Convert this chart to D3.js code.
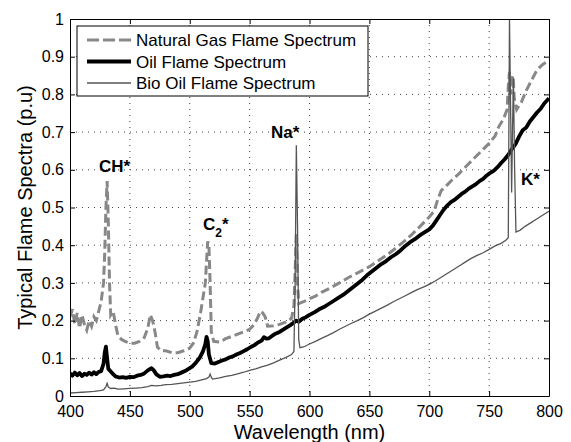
<!DOCTYPE html>
<html>
<head>
<meta charset="utf-8">
<script src="https://cdn.jsdelivr.net/npm/d3@7"></script>
<style>
body { margin: 0; background: #fff; }
svg { font-family: "Liberation Sans", Arial, sans-serif; }
.tick text { font-size: 16px; fill: #000; }
.domain { stroke: #000; }
.tick line { stroke: #000; }
</style>
</head>
<body>
<div id="chart"></div>
<script>

var width = 571,
height = 442,
margin = {top: 19, right: 22, bottom: 46, left: 70};

// tick labels
var xTicks = [400, 450, 500, 550, 600, 650, 700, 750, 800];
var yTicks = [0, 0.1, 0.2, 0.3, 0.4, 0.5, 0.6, 0.7, 0.8, 0.9, 1];

var seriesNames = ["Natural Gas Flame Spectrum", "Oil Flame Spectrum", "Bio Oil Flame Spectrum"];

// natural gas flame
var gasWavelength = [400, 402, 404, 406, 408, 410, 412, 414, 416, 418, 420, 422, 424, 426, 428, 429, 430, 431, 432, 433, 434, 436, 438, 440, 443, 446, 450, 454, 458, 462, 465, 467, 469, 471, 473, 476, 480, 485, 490, 495, 500, 503, 506, 509, 511, 513, 515, 516, 517, 518, 520, 525, 530, 535, 540, 545, 550, 554, 557, 559, 561, 563, 565, 570, 575, 580, 585, 587, 588, 589, 590, 591, 595, 600, 605, 610, 617, 625, 633, 641, 650, 658, 665, 672, 679, 686, 693, 700, 704, 707, 710, 715, 719, 724, 728, 736, 743, 750, 755, 758, 762, 765, 766, 767, 768, 769, 770, 771, 773, 777, 781, 785, 790, 795, 800];
var gasIntensity = [0.21, 0.23, 0.19, 0.22, 0.18, 0.215, 0.19, 0.175, 0.2, 0.185, 0.21, 0.2, 0.225, 0.25, 0.3, 0.38, 0.5, 0.57, 0.46, 0.3, 0.215, 0.225, 0.19, 0.16, 0.15, 0.145, 0.14, 0.14, 0.145, 0.155, 0.18, 0.215, 0.2, 0.17, 0.13, 0.12, 0.12, 0.115, 0.115, 0.12, 0.127, 0.14, 0.17, 0.22, 0.26, 0.3, 0.41, 0.4, 0.3, 0.17, 0.145, 0.143, 0.152, 0.158, 0.164, 0.17, 0.177, 0.19, 0.21, 0.225, 0.22, 0.21, 0.185, 0.186, 0.19, 0.196, 0.206, 0.24, 0.33, 0.43, 0.3, 0.245, 0.25, 0.258, 0.265, 0.275, 0.286, 0.3, 0.315, 0.328, 0.343, 0.36, 0.375, 0.392, 0.41, 0.43, 0.452, 0.475, 0.49, 0.52, 0.545, 0.56, 0.573, 0.587, 0.6, 0.626, 0.648, 0.67, 0.69, 0.714, 0.735, 0.76, 0.82, 0.86, 0.8, 0.84, 0.85, 0.79, 0.76, 0.78, 0.81, 0.835, 0.865, 0.88, 0.89];

// oil flame
var oilWavelength = [400, 402, 404, 406, 408, 410, 412, 414, 416, 418, 420, 422, 424, 426, 428, 429, 430, 431, 432, 434, 436, 438, 441, 444, 447, 450, 453, 456, 459, 462, 465, 468, 470, 472, 475, 478, 481, 484, 487, 490, 493, 496, 499, 502, 505, 508, 511, 513, 514, 515, 516, 518, 521, 524, 527, 530, 533, 536, 539, 542, 545, 548, 551, 554, 557, 560, 562, 564, 566, 569, 572, 575, 578, 581, 584, 587, 589, 591, 594, 597, 600, 604, 608, 612, 616, 620, 624, 628, 632, 636, 640, 644, 648, 652, 656, 660, 664, 668, 672, 676, 680, 684, 688, 692, 696, 700, 703, 706, 709, 712, 715, 718, 721, 724, 727, 730, 733, 736, 739, 742, 745, 748, 751, 754, 757, 760, 763, 766, 769, 772, 775, 778, 781, 784, 787, 790, 793, 796, 800];
var oilIntensity = [0.06, 0.054, 0.062, 0.055, 0.061, 0.053, 0.059, 0.056, 0.062, 0.057, 0.063, 0.058, 0.064, 0.066, 0.085, 0.115, 0.131, 0.1, 0.072, 0.065, 0.058, 0.052, 0.049, 0.05, 0.048, 0.051, 0.05, 0.054, 0.056, 0.06, 0.068, 0.074, 0.068, 0.058, 0.051, 0.052, 0.054, 0.053, 0.056, 0.058, 0.062, 0.066, 0.072, 0.078, 0.088, 0.1, 0.118, 0.138, 0.157, 0.145, 0.11, 0.087, 0.086, 0.09, 0.094, 0.097, 0.102, 0.105, 0.11, 0.114, 0.119, 0.124, 0.13, 0.135, 0.142, 0.147, 0.156, 0.152, 0.153, 0.16, 0.166, 0.17, 0.176, 0.182, 0.188, 0.195, 0.2, 0.197, 0.205, 0.209, 0.215, 0.222, 0.23, 0.236, 0.244, 0.252, 0.26, 0.268, 0.278, 0.288, 0.298, 0.308, 0.32, 0.33, 0.34, 0.35, 0.358, 0.368, 0.376, 0.386, 0.398, 0.408, 0.416, 0.426, 0.434, 0.442, 0.452, 0.466, 0.48, 0.494, 0.505, 0.514, 0.52, 0.528, 0.536, 0.542, 0.55, 0.556, 0.562, 0.57, 0.576, 0.585, 0.592, 0.598, 0.607, 0.618, 0.628, 0.64, 0.655, 0.668, 0.688, 0.705, 0.712, 0.728, 0.74, 0.752, 0.762, 0.776, 0.79];

// bio oil flame
var bioWavelength = [400, 405, 410, 415, 420, 425, 428, 430, 431, 432, 434, 437, 440, 445, 450, 455, 460, 465, 468, 472, 476, 480, 485, 490, 495, 500, 505, 510, 514, 516, 517, 518, 519, 525, 530, 535, 540, 545, 550, 555, 560, 565, 570, 575, 580, 585, 587, 588, 589, 590, 591, 592, 595, 600, 605, 610, 615, 620, 625, 630, 635, 640, 645, 650, 655, 660, 665, 670, 675, 680, 685, 690, 695, 700, 705, 710, 715, 720, 725, 730, 735, 740, 745, 750, 755, 760, 764, 766, 767, 768, 768.8, 769.5, 770.3, 771.3, 772.4, 776, 780, 785, 790, 795, 800];
var bioIntensity = [0.008, 0.009, 0.01, 0.011, 0.012, 0.014, 0.016, 0.025, 0.034, 0.024, 0.02, 0.021, 0.018, 0.019, 0.02, 0.021, 0.022, 0.025, 0.028, 0.027, 0.028, 0.03, 0.031, 0.033, 0.035, 0.037, 0.039, 0.043, 0.046, 0.05, 0.058, 0.05, 0.045, 0.048, 0.052, 0.055, 0.059, 0.063, 0.068, 0.072, 0.077, 0.082, 0.088, 0.095, 0.102, 0.11, 0.118, 0.3, 0.665, 0.45, 0.15, 0.128, 0.13, 0.138, 0.145, 0.153, 0.16, 0.168, 0.177, 0.185, 0.193, 0.2, 0.208, 0.217, 0.225, 0.233, 0.241, 0.25, 0.258, 0.266, 0.274, 0.282, 0.289, 0.296, 0.305, 0.315, 0.325, 0.335, 0.345, 0.355, 0.365, 0.373, 0.38, 0.389, 0.398, 0.405, 0.413, 0.42, 1.0, 0.75, 0.54, 0.7, 0.843, 0.6, 0.435, 0.44, 0.45, 0.46, 0.47, 0.48, 0.49];

var svg = d3.select("#chart")
    .append("svg")
    .attr("width", width)
    .attr("height", height);

var plotW = width - margin.left - margin.right,
    plotH = height - margin.top - margin.bottom;

var x = d3.scaleLinear().domain([400, 800]).range([0, plotW]);
var y = d3.scaleLinear().domain([0, 1]).range([plotH, 0]);

var g = svg.append("g")
    .attr("transform", "translate(" + margin.left + "," + margin.top + ")");

svg.append("defs").append("clipPath")
    .attr("id", "plot-clip")
    .append("rect")
    .attr("width", plotW)
    .attr("height", plotH);

// dotted grid
g.append("g").selectAll("line")
    .data(xTicks.slice(1, -1))
    .enter()
    .append("line")
    .attr("x1", function (d) { return x(d); })
    .attr("x2", function (d) { return x(d); })
    .attr("y1", 0)
    .attr("y2", plotH)
    .attr("stroke", "#444")
    .attr("stroke-width", 1)
    .attr("stroke-dasharray", "1,5");

g.append("g").selectAll("line")
    .data(yTicks.slice(1, -1))
    .enter()
    .append("line")
    .attr("x1", 0)
    .attr("x2", plotW)
    .attr("y1", function (d) { return y(d); })
    .attr("y2", function (d) { return y(d); })
    .attr("stroke", "#444")
    .attr("stroke-width", 1)
    .attr("stroke-dasharray", "1,5");

function toPoints(wl, vals) {
    return wl.map(function (d, i) { return [d, vals[i]]; });
}

var line = d3.line()
    .x(function (d) { return x(d[0]); })
    .y(function (d) { return y(d[1]); });

var lines = g.append("g").attr("clip-path", "url(#plot-clip)");

lines.append("path")
    .datum(toPoints(gasWavelength, gasIntensity))
    .attr("d", line)
    .attr("fill", "none")
    .attr("stroke", "#888")
    .attr("stroke-width", 3)
    .attr("stroke-dasharray", "9,4");

lines.append("path")
    .datum(toPoints(oilWavelength, oilIntensity))
    .attr("d", line)
    .attr("fill", "none")
    .attr("stroke", "#000")
    .attr("stroke-width", 3.8)
    .attr("stroke-linejoin", "round");

lines.append("path")
    .datum(toPoints(bioWavelength, bioIntensity))
    .attr("d", line)
    .attr("fill", "none")
    .attr("stroke", "#555")
    .attr("stroke-width", 1.3);

// axes, ticks pointing inward on all four sides
g.append("g")
    .attr("transform", "translate(0," + plotH + ")")
    .call(d3.axisBottom(x).tickValues(xTicks).tickSizeInner(-5).tickSizeOuter(0).tickPadding(10));

g.append("g")
    .call(d3.axisLeft(y).tickValues(yTicks).tickSizeInner(-5).tickSizeOuter(0).tickPadding(6)
        .tickFormat(function (d) { return String(d); }));

g.append("g")
    .call(d3.axisTop(x).tickValues(xTicks).tickSizeInner(-5).tickSizeOuter(0).tickFormat(""));

g.append("g")
    .attr("transform", "translate(" + plotW + ",0)")
    .call(d3.axisRight(y).tickValues(yTicks).tickSizeInner(-5).tickSizeOuter(0).tickFormat(""));

// axis titles
svg.append("text")
    .attr("x", margin.left + plotW / 2)
    .attr("y", 439)
    .attr("text-anchor", "middle")
    .style("font-size", "20px")
    .text("Wavelength (nm)");

svg.append("text")
    .attr("transform", "translate(32," + (margin.top + plotH / 2) + ")rotate(-90)")
    .attr("text-anchor", "middle")
    .style("font-size", "20px")
    .text("Typical Flame Spectra (p.u)");

// peak annotations
var ann = g.append("g")
    .style("font-size", "17px")
    .style("font-weight", "bold");

ann.append("text").attr("x", 29).attr("y", 153).text("CH*");

var c2 = ann.append("text").attr("x", 133).attr("y", 211);
c2.append("tspan").text("C");
c2.append("tspan").attr("dy", 7).style("font-size", "12px").text("2");
c2.append("tspan").attr("dy", -7).text("*");

ann.append("text").attr("x", 201).attr("y", 119).text("Na*");
ann.append("text").attr("x", 451).attr("y", 166).text("K*");

// legend
var legend = svg.append("g")
    .attr("transform", "translate(77,26)");

legend.append("rect")
    .attr("width", 291)
    .attr("height", 70)
    .attr("fill", "#fff")
    .attr("stroke", "#000");

var legendStyles = [
    {stroke: "#888", width: 3, dash: "12,4"},
    {stroke: "#000", width: 3.8, dash: null},
    {stroke: "#555", width: 1.3, dash: null}
];

var rows = legend.selectAll("g.row")
    .data(seriesNames)
    .enter()
    .append("g")
    .attr("class", "row")
    .attr("transform", function (d, i) { return "translate(0," + (14 + i * 21.5) + ")"; });

rows.append("line")
    .attr("x1", 10)
    .attr("x2", 54)
    .attr("stroke", function (d, i) { return legendStyles[i].stroke; })
    .attr("stroke-width", function (d, i) { return legendStyles[i].width; })
    .attr("stroke-dasharray", function (d, i) { return legendStyles[i].dash; });

rows.append("text")
    .attr("x", 59)
    .attr("y", 6)
    .style("font-size", "17px")
    .text(function (d) { return d; });

</script>
</body>
</html>
